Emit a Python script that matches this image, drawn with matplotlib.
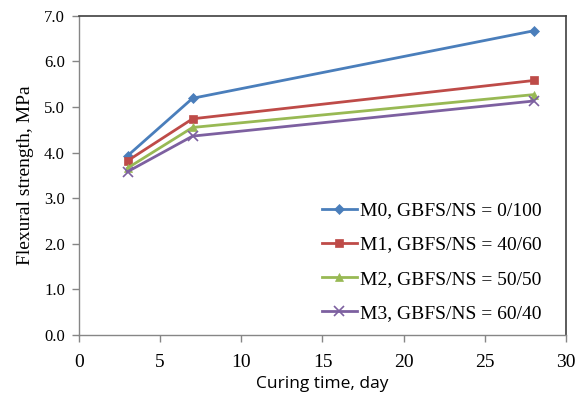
import matplotlib
matplotlib.use("Agg")
import matplotlib.pyplot as plt

days = [3, 7, 28]
m0 = [3.93, 5.19, 6.67]
m1 = [3.82, 4.74, 5.58]
m2 = [3.66, 4.55, 5.27]
m3 = [3.58, 4.36, 5.13]
labels = ["M0, GBFS/NS = 0/100", "M1, GBFS/NS = 40/60",
          "M2, GBFS/NS = 50/50", "M3, GBFS/NS = 60/40"]
colors = ["#4A7EBB", "#BE4B48", "#98B954", "#7D60A0"]
markers = ["D", "s", "^", "x"]
msizes = [5, 6, 6, 7]

serif = ["Liberation Serif", "DejaVu Serif"]

fig = plt.figure(figsize=(5.8, 3.94), dpi=100)
ax = fig.add_axes([0.136, 0.150, 0.840, 0.810])

for y, lab, c, m, ms in zip([m0, m1, m2, m3], labels, colors, markers, msizes):
    ax.plot(days, y, color=c, marker=m, markersize=ms, linewidth=2, label=lab,
            markeredgewidth=1.2 if m == "x" else 0.5)

ax.set_xlim(0, 30)
ax.set_ylim(0, 7)
ax.set_xticks(range(0, 31, 5))
ax.set_yticks([i for i in range(0, 8)])
ax.set_yticklabels([f"{v:.1f}" for v in range(0, 8)])
for t in ax.get_xticklabels():
    t.set_fontfamily(serif)
    t.set_fontsize(14)
for t in ax.get_yticklabels():
    t.set_fontfamily(serif)
    t.set_fontsize(12)
ax.tick_params(direction="out", length=5, color="#868686", width=1)
ax.tick_params(axis="x", pad=9)
ax.tick_params(axis="y", pad=5)

for s in ["left", "bottom"]:
    ax.spines[s].set_color("#868686")
    ax.spines[s].set_linewidth(1)
for s in ["top", "right"]:
    ax.spines[s].set_color("#404040")
    ax.spines[s].set_linewidth(1.2)

ax.set_xlabel("Curing time, day", fontfamily=["Open Sans", "DejaVu Sans"], fontsize=12.5, labelpad=3)
ax.set_ylabel("Flexural strength, MPa", fontfamily=serif, fontsize=14, labelpad=7)

leg = ax.legend(loc="lower right", frameon=False, prop={"family": serif, "size": 14},
                handlelength=1.8, handletextpad=0.15, labelspacing=0.85,
                bbox_to_anchor=(0.985, -0.014))

fig.savefig("out.png", dpi=100)
